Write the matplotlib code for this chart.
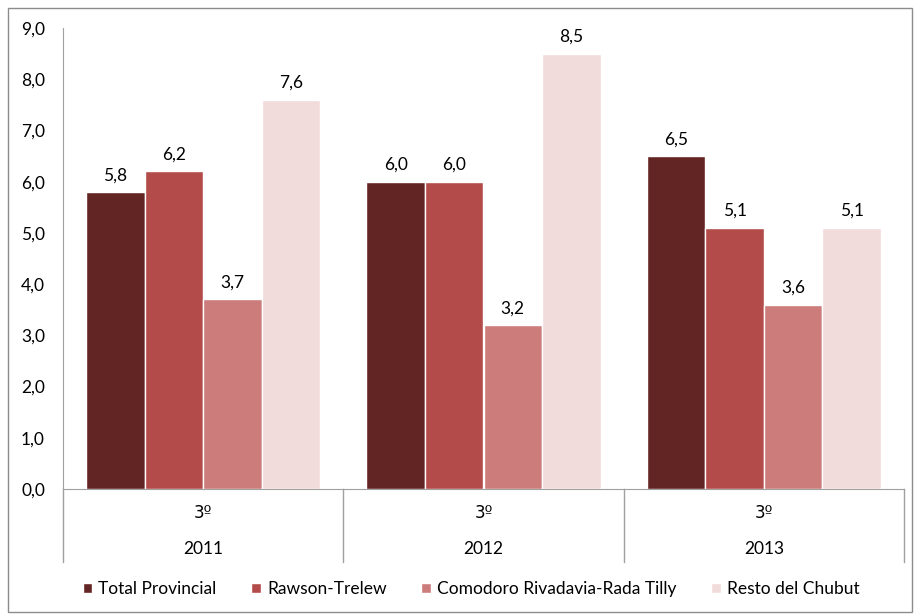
import matplotlib.pyplot as plt
import numpy as np
from matplotlib.patches import Rectangle
from matplotlib.transforms import blended_transform_factory

plt.rcParams["font.family"] = ["Lato", "DejaVu Sans"]

years = ["2011", "2012", "2013"]
quarter = ["3º", "3º", "3º"]
series_names = ["Total Provincial", "Rawson-Trelew", "Comodoro Rivadavia-Rada Tilly", "Resto del Chubut"]
total_provincial = [5.8, 6.0, 6.5]
rawson_trelew = [6.2, 6.0, 5.1]
comodoro = [3.7, 3.2, 3.6]
resto = [7.6, 8.5, 5.1]
colors = ["#632523", "#B34B4A", "#CC7C7B", "#F2DCDB"]

values = [total_provincial, rawson_trelew, comodoro, resto]
fs = 12.5

fig = plt.figure(figsize=(9.14, 6.14), dpi=100)
fig.patches.append(Rectangle((8 / 914, 2 / 614), 904 / 914, 604 / 614, transform=fig.transFigure,
                             fill=False, edgecolor="#8c8c8c", linewidth=1.0))
ax = fig.add_axes([63 / 914, 125 / 614, 841 / 914, 461 / 614])

x = np.arange(len(years))
width = 0.209
for i, (name, vals, color) in enumerate(zip(series_names, values, colors)):
    pos = x + (i - 1.5) * width
    bars = ax.bar(pos, vals, width, color=color, edgecolor="white", linewidth=1.0, label=name, zorder=3)
    for b, v in zip(bars, vals):
        ax.text(b.get_x() + b.get_width() / 2, v + 0.17, f"{v:.1f}".replace(".", ","),
                ha="center", va="bottom", fontsize=fs, color="black")

ax.set_xlim(-0.5, 2.5)
ax.set_ylim(0, 9)
ax.set_yticks(np.arange(0, 10, 1))
ax.set_yticklabels([f"{t:.1f}".replace(".", ",") for t in np.arange(0, 10, 1)], fontsize=fs)
ax.tick_params(axis="y", length=0, pad=13)
ax.set_xticks([])
for s in ["top", "right"]:
    ax.spines[s].set_visible(False)
ax.spines["left"].set_color("#a0a0a0")
ax.spines["bottom"].set_color("#a0a0a0")

trans = blended_transform_factory(ax.transData, ax.transAxes)
for xs in [-0.5, 0.5, 1.5, 2.5]:
    ax.plot([xs, xs], [0, -73 / 461], transform=trans, color="#a0a0a0", linewidth=1.0, clip_on=False)
for xi, q, yr in zip(x, quarter, years):
    ax.text(xi, -24 / 461, q, transform=trans, ha="center", va="center", fontsize=fs - 0.5,
            family="DejaVu Sans")
    ax.text(xi, -60 / 461, yr, transform=trans, ha="center", va="center", fontsize=fs)

fig.legend(loc="center", bbox_to_anchor=(471 / 914, 25 / 614), ncol=4, frameon=False,
           fontsize=fs, handlelength=0.55, handleheight=0.55, handletextpad=0.35, columnspacing=2.0)

fig.savefig("out.png", dpi=100)
